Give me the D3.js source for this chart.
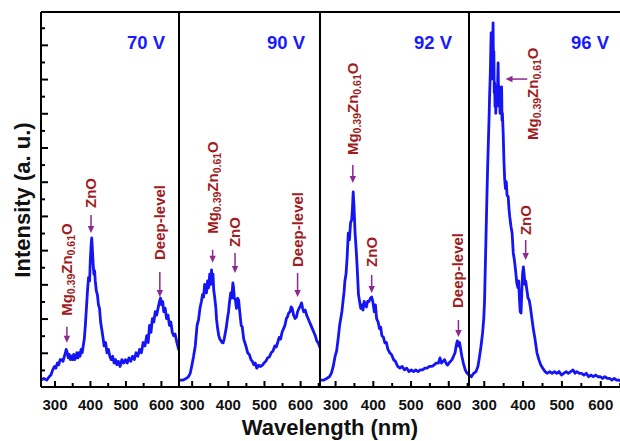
<!DOCTYPE html>
<html><head><meta charset="utf-8">
<script src="https://cdn.jsdelivr.net/npm/d3@7"></script>
<style>
body{margin:0;background:#fff}
svg{display:block}
text{font-family:"Liberation Sans",Arial,Helvetica,sans-serif;font-weight:bold}
</style>
</head><body>
<svg id="chart" width="620" height="441"></svg>
<script>
// ---------- DATA ----------
const panelLabels = ["70 V", "90 V", "92 V", "96 V"];
const xMajorTicks = [300, 400, 500, 600];
const xMinorTicks = [350, 450, 550, 650];
const yMajorTicks = [10, 20, 30, 40, 50, 60, 70, 80, 90, 100];
const yMinorTicks = [5, 15, 25, 35, 45, 55, 65, 75, 85, 95, 105];

const wl70 = [262,270,278,285,290,295,300,304,308,312,316,320,324,328,331,333,336,339,342,345,348,351,354,357,360,363,366,369,372,375,378,381,384,387,390,393,396,399,401,403,405,407,409,411,413,415,418,421,424,427,430,433,436,440,444,448,452,456,460,464,468,472,476,480,485,490,495,500,505,510,515,520,525,530,535,540,545,550,555,560,564,568,572,576,580,584,588,592,596,599,602,605,608,612,616,620,624,628,632,636,640,645,650,655];
const int70 = [2,2.5,2,3,3.5,5,6,5.5,7,6.5,8,8,7.5,9,10,11,10,8.5,9.5,8,9,8,9.5,8,8.5,10,8.5,10,9,11,10,12,14,18,23,28,32,31,37,41,43.6,40,36,33,34,31,28,27,24,23,19,17,15,12,13,10,11,9,8,9,7,8,6.5,7.5,6,8,7,8,7,8.5,7.5,9,8,10,9,11,10,13,12,15,13,18,16,20,19,22,21,23,25,26,24,25,22,23,20,21,18,19,16,15,15.5,13,11,10];

const wl90 = [265,275,285,291,296,300,305,310,315,319,323,327,330,333,336,339,341,344,347,350,353,355,357,359,361,364,367,369,372,375,378,380,384,387,390,393,396,399,402,405,408,411,414,416,418,421,424,427,430,433,437,440,444,447,450,455,460,464,468,472,476,480,485,490,496,500,505,510,515,520,525,530,534,538,542,546,550,554,558,562,565,568,572,575,578,582,586,590,593,597,600,604,607,610,614,618,622,626,630,634,638,642,646,650,655];
const int90 = [2,2,2.5,3,4,6,8.8,12,18,19.6,23,25,27,26.3,30,28,27.5,31,29,33,30,34.2,31,33,28.4,26,23,19.6,17,15,14,13.7,13,12.9,14,15.8,17.5,20,22,25,27.5,26,30.4,29,26,25.4,23,26,25.4,22,18,17.5,14,13,12,10,9.4,8,7.5,6.5,7,5.5,6.4,6,6.4,7,7.5,8.5,8.8,10,10.5,12,11.7,13,14.5,14,16,17,18,20,20.5,21.5,22,23.4,23,21,20,20.5,22,23,23.5,24.6,23,22,22.5,21,20,19,18,17,16,15,13.5,12.9,11.5];

const wl92 = [261,270,278,285,290,295,300,304,308,312,315,318,321,324,326,329,332,335,338,341,344,346,348,350,353,356,359,362,365,368,371,374,377,380,383,386,390,394,397,400,404,407,410,414,418,421,424,428,432,436,440,445,450,455,460,466,472,478,484,490,496,502,508,514,520,526,532,538,544,550,556,562,568,574,578,582,586,590,594,598,602,606,610,614,618,621,624,627,630,633,636,640,645,650,655];
const int92 = [2,2,2.5,3,4,6,9,10.5,14,18,20,22,25,28,31,33,38,45,43,48,48.8,52,57,53,45,40,34,27,25,23,24,22.5,25,24,23.4,25,25,26,26.3,25,22,24,20,19,17,17.5,15,14.6,12.9,13,11,10,9.4,8,7.5,6,5.5,6,5,5.5,4.5,5,4.5,5,4.5,5,5,5.5,5.5,6,6,6.4,7,7,8.5,7,7.5,8,7,6.4,7,7.5,8,9,10,12,13.5,12,13,11,9,7,5,4,3.5];

const wl96 = [263,268,274,280,285,289,293,297,300,302,304,306,308,310,312,314,315,317,319,320,321,322,323,324,325,326,327,328,329,330,331,332,333,334,335,336,337,338,339,340,341,342,343,344,345,346,347,348,350,352,354,356,358,360,363,365,367,370,373,376,379,382,385,388,390,392,394,396,398,400,402,404,406,408,411,414,417,420,424,428,432,437,442,447,452,458,463,470,476,482,488,494,500,506,512,518,524,530,535,540,546,552,558,564,570,576,582,588,594,600,606,612,618,624,630,636,642,648,655];
const int96 = [3.5,3,4,4.5,6,8.8,12,15.8,20,25,35.1,45,55,64.3,72,80,85,92,103.5,90,102,92,100,106.4,92,98,86,88.9,82,86,80,84.8,82,88,84,90,94.7,86,88,82,86,80,87,82,84,87.7,78,80,74.3,66,60.5,58,60,56,55.6,52,49.7,47,45,39.2,37,34,30.4,29,31,25.4,22,21.6,28,33,35.1,33,30,31,28.4,26,25.4,23.4,20,16.7,14,10,8,6.4,5.5,4.5,4,4.5,4,4.5,4,4.5,3.5,4,4.5,4,4.5,5,4,4.5,4,4,3.5,4,3,3.5,3,3.5,3,3,2.5,3,2.5,2.5,2,2.5,2,2,1.8];

const wavelengths = [wl70, wl90, wl92, wl96];
const intensities = [int70, int90, int92, int96];

// annotation: panel, label, wavelength, intensity at arrow tip
const annPanel = [0, 0, 0, 1, 1, 1, 2, 2, 2, 3];
const annLabel = ["MgZnO", "ZnO", "Deep-level", "MgZnO", "ZnO", "Deep-level", "MgZnO", "ZnO", "Deep-level", "ZnO"];
const annWl    = [335, 403, 597, 358, 420, 593, 347, 397, 627, 408];
const annTip   = [12.9, 45, 26.3, 36.3, 33.3, 26.3, 59.6, 27.5, 14.6, 37.1];
// horizontal annotation in 96 V panel
const hAnn = {panel: 3, label: "MgZnO", tipWl: 356, tailWl: 412, textWl: 426, value: 90};

// ---------- LAYOUT ----------
const svg = d3.select("#chart");
const plotTop = 12, plotBottom = 387;
const panelEdges = [41, 179, 320, 469, 622];
const panelDomains = [[262, 651], [265, 655], [260, 655], [262, 656]];
const arrowLen = [16, 18, 25, 13, 20, 24, 18, 18, 17, 20];
const textGap  = [11, 7, 12, 16, 6, 6, 10, 8, 12, 5];
const labelRight = [165, 305, 452, 609];

const blue = "#1414f5", textRed = "#a01c22", arrowPurple = "#8c2890";

const y = d3.scaleLinear().domain([0, 109.6]).range([plotBottom, plotTop]);
const xs = panelDomains.map((d, i) => d3.scaleLinear().domain(d).range([panelEdges[i], panelEdges[i + 1]]));

// curves
const defs = svg.append("defs");
xs.forEach((x, i) => {
  defs.append("clipPath").attr("id", "cp" + i).append("rect")
    .attr("x", panelEdges[i]).attr("y", plotTop).attr("width", panelEdges[i + 1] - panelEdges[i]).attr("height", plotBottom - plotTop);
  const pts = wavelengths[i].map((w, k) => [w, intensities[i][k]]);
  svg.append("path").datum(pts)
    .attr("clip-path", `url(#cp${i})`)
    .attr("fill", "none").attr("stroke", blue).attr("stroke-width", 2.8)
    .attr("stroke-linejoin", "round")
    .attr("d", d3.line().x(d => x(d[0])).y(d => y(d[1])));
});

// x axes
xs.forEach((x, i) => {
  const [d0, d1] = x.domain();
  const g = svg.append("g").attr("transform", `translate(0,${plotBottom})`);
  g.call(d3.axisBottom(x).tickValues(xMajorTicks).tickSize(-6).tickPadding(12.8).tickFormat(d3.format("d")));
  g.select(".domain").remove();
  g.selectAll(".tick line").attr("stroke", "#000").attr("stroke-width", 2);
  g.selectAll(".tick text").attr("font-size", 15).attr("font-family", "'Liberation Sans',Arial,sans-serif").attr("font-weight", "bold").attr("fill", "#111");
  const gm = svg.append("g").attr("transform", `translate(0,${plotBottom})`);
  gm.call(d3.axisBottom(x).tickValues(xMinorTicks.filter(v => v > d0 + 3 && v < d1 - 3)).tickSize(-4).tickFormat(""));
  gm.select(".domain").remove();
  gm.selectAll(".tick line").attr("stroke", "#000").attr("stroke-width", 2);
});

// y axis ticks (inside)
const gy = svg.append("g").attr("transform", `translate(${panelEdges[0]},0)`);
gy.call(d3.axisLeft(y).tickValues(yMajorTicks).tickSize(-7).tickFormat(""));
gy.select(".domain").remove();
gy.selectAll(".tick line").attr("stroke", "#000").attr("stroke-width", 2);
const gy2 = svg.append("g").attr("transform", `translate(${panelEdges[0]},0)`);
gy2.call(d3.axisLeft(y).tickValues(yMinorTicks).tickSize(-4).tickFormat(""));
gy2.select(".domain").remove();
gy2.selectAll(".tick line").attr("stroke", "#000").attr("stroke-width", 2);

// frame
svg.append("line").attr("x1", panelEdges[0]).attr("x2", 620).attr("y1", plotTop).attr("y2", plotTop).attr("stroke", "#000").attr("stroke-width", 2);
svg.append("line").attr("x1", panelEdges[0]).attr("x2", 620).attr("y1", plotBottom).attr("y2", plotBottom).attr("stroke", "#000").attr("stroke-width", 2.2);
panelEdges.slice(0, 4).forEach(px => {
  svg.append("line").attr("x1", px).attr("x2", px).attr("y1", plotTop).attr("y2", plotBottom).attr("stroke", "#000").attr("stroke-width", 2);
});

// panel labels
panelLabels.forEach((t, i) => {
  svg.append("text").attr("x", labelRight[i]).attr("y", 49).attr("text-anchor", "end")
    .attr("font-size", 18.5).attr("fill", "#1a1aff").text(t);
});

function writeLabel(sel, label) {
  if (label === "MgZnO") {
    sel.append("tspan").text("Mg");
    sel.append("tspan").attr("font-size", 10.5).attr("dy", 3.5).text("0.39");
    sel.append("tspan").attr("dy", -3.5).text("Zn");
    sel.append("tspan").attr("font-size", 10.5).attr("dy", 3.5).text("0.61");
    sel.append("tspan").attr("dy", -3.5).text("O");
  } else sel.text(label);
}

function arrowHead(xTip, yTip, dir) {
  const L = 7, W = 3.2;
  let pts;
  if (dir === "down") pts = [[xTip, yTip], [xTip - W, yTip - L], [xTip + W, yTip - L]];
  else pts = [[xTip, yTip], [xTip + L, yTip - W], [xTip + L, yTip + W]];
  svg.append("path").attr("d", "M" + pts.map(p => p.join(",")).join("L") + "Z").attr("fill", arrowPurple);
}

// vertical annotations
annLabel.forEach((lab, k) => {
  const x = xs[annPanel[k]];
  const ax = x(annWl[k]);
  const tipY = y(annTip[k]);
  const topY = tipY - arrowLen[k];
  svg.append("line").attr("x1", ax).attr("x2", ax).attr("y1", topY).attr("y2", tipY - 5)
    .attr("stroke", arrowPurple).attr("stroke-width", 1.5);
  arrowHead(ax, tipY, "down");
  const t = svg.append("text").attr("transform", `translate(${ax + 5},${topY - textGap[k]}) rotate(-90)`)
    .attr("font-size", 15).attr("fill", textRed);
  writeLabel(t, lab);
});

// horizontal annotation (96 V)
{
  const x = xs[hAnn.panel];
  const yy = y(hAnn.value);
  svg.append("line").attr("x1", x(hAnn.tailWl)).attr("x2", x(hAnn.tipWl) + 5).attr("y1", yy).attr("y2", yy)
    .attr("stroke", arrowPurple).attr("stroke-width", 1.5);
  arrowHead(x(hAnn.tipWl), yy, "left");
  const t = svg.append("text").attr("transform", `translate(${x(hAnn.textWl) + 5},140) rotate(-90)`)
    .attr("font-size", 15).attr("fill", textRed);
  writeLabel(t, hAnn.label);
}

// axis titles
svg.append("text").attr("x", 330).attr("y", 435).attr("text-anchor", "middle")
  .attr("font-size", 22).attr("fill", "#111").text("Wavelength (nm)");
svg.append("text").attr("transform", "translate(30,200) rotate(-90)").attr("text-anchor", "middle")
  .attr("font-size", 22).attr("fill", "#111").text("Intensity (a. u.)");
</script>
</body></html>
